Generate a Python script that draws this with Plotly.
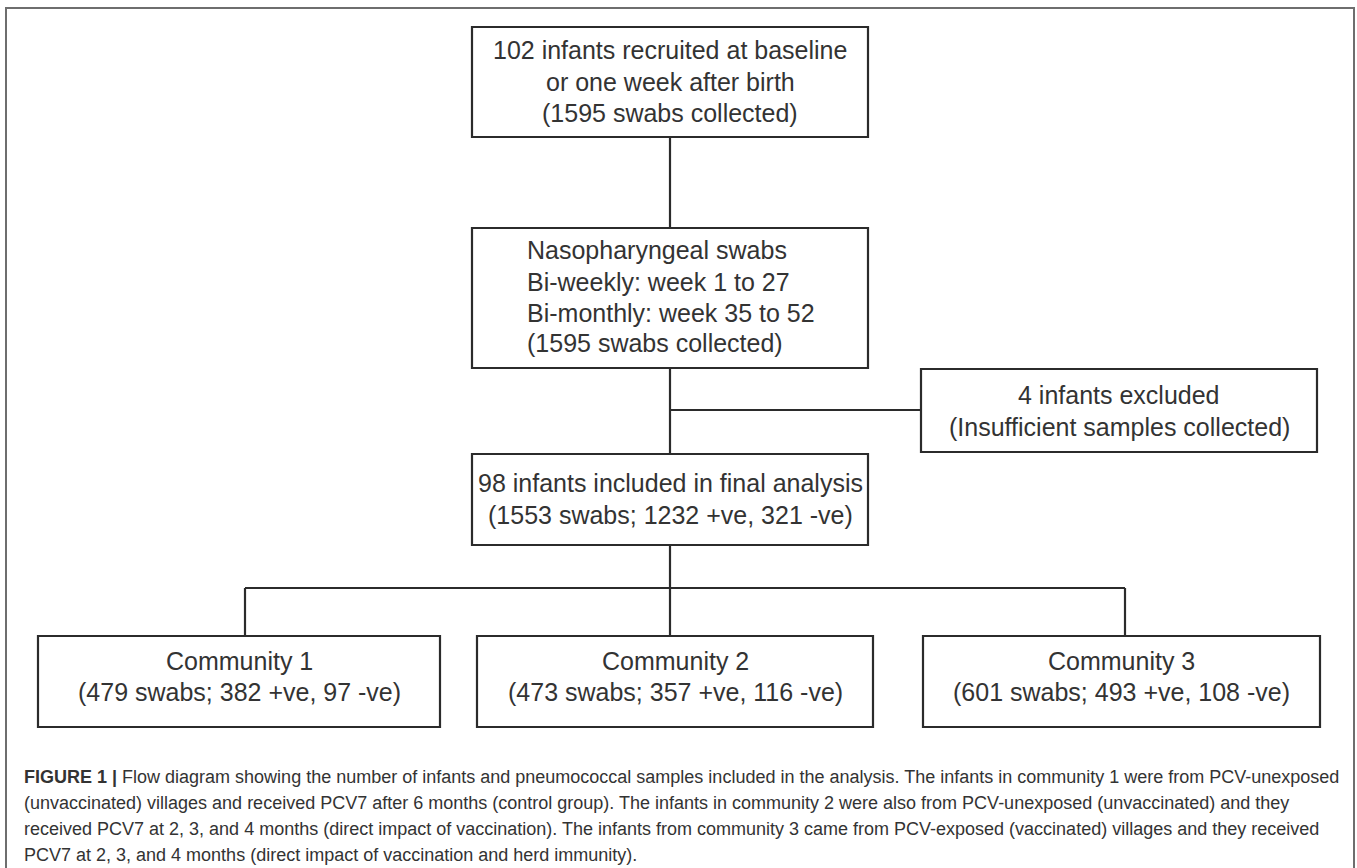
import plotly.graph_objects as go

# ---- data (texts and counts) ----
recruited_infants = 102
swabs_collected = 1595
schedule_lines = ["Nasopharyngeal swabs", "Bi-weekly: week 1 to 27", "Bi-monthly: week 35 to 52"]
excluded_infants = 4
included_infants = 98
included_swabs = 1553
included_pos = 1232
included_neg = 321
communities = ["Community 1", "Community 2", "Community 3"]
community_swabs = [479, 473, 601]
community_pos = [382, 357, 493]
community_neg = [97, 116, 108]
caption_lines = [
    "<b>FIGURE 1 |</b> Flow diagram showing the number of infants and pneumococcal samples included in the analysis. The infants in community 1 were from PCV-unexposed",
    "(unvaccinated) villages and received PCV7 after 6 months (control group). The infants in community 2 were also from PCV-unexposed (unvaccinated) and they",
    "received PCV7 at 2, 3, and 4 months (direct impact of vaccination). The infants from community 3 came from PCV-exposed (vaccinated) villages and they received",
    "PCV7 at 2, 3, and 4 months (direct impact of vaccination and herd immunity).",
]

# ---- box texts ----
box_texts = {
    "top": [f"{recruited_infants} infants recruited at baseline", "or one week after birth",
            f"({swabs_collected} swabs collected)"],
    "swabs": schedule_lines + [f"({swabs_collected} swabs collected)"],
    "excl": [f"{excluded_infants} infants excluded", "(Insufficient samples collected)"],
    "incl": [f"{included_infants} infants included in final analysis",
             f"({included_swabs} swabs; {included_pos} +ve, {included_neg} -ve)"],
}
for i, c in enumerate(communities):
    box_texts[f"c{i}"] = [c, f"({community_swabs[i]} swabs; {community_pos[i]} +ve, {community_neg[i]} -ve)"]

# ---- layout geometry (pixels) ----
W, H = 1357, 868
geom = {
    "top":   dict(x0=472, x1=868, y0=27, y1=137, lines=[50, 82, 113], align="center"),
    "swabs": dict(x0=472, x1=868, y0=228, y1=368, lines=[250, 282, 313, 343], align="left", tx=525),
    "excl":  dict(x0=921, x1=1317, y0=369, y1=452, lines=[395, 427], align="center"),
    "incl":  dict(x0=472, x1=868, y0=454, y1=545, lines=[483, 515], align="center"),
    "c0":    dict(x0=38, x1=440, y0=636, y1=727, lines=[661, 692], align="center"),
    "c1":    dict(x0=477, x1=873, y0=636, y1=727, lines=[661, 692], align="center"),
    "c2":    dict(x0=923, x1=1320, y0=636, y1=727, lines=[661, 692], align="center"),
}

LINE = dict(color="#2b2b2b", width=2.2)
TXT = dict(family="Liberation Sans, Arial, sans-serif", size=25, color="#333333")

fig = go.Figure()
fig.add_trace(go.Scatter(x=[0, W], y=[0, H], mode="markers", marker=dict(opacity=0),
                         hoverinfo="skip", showlegend=False))

shapes = []
annotations = []

# outer frame
shapes.append(dict(type="rect", x0=6, x1=1354, y0=8, y1=H + 20, xref="x", yref="y",
                   line=dict(color="#6e6e6e", width=2), fillcolor="rgba(0,0,0,0)"))

for key, g in geom.items():
    shapes.append(dict(type="rect", x0=g["x0"], x1=g["x1"], y0=g["y0"], y1=g["y1"],
                       xref="x", yref="y", line=LINE, fillcolor="white", layer="below"))
    for txt, ly in zip(box_texts[key], g["lines"]):
        if g["align"] == "left":
            annotations.append(dict(x=g["tx"], y=ly, xref="x", yref="y", text=txt, showarrow=False,
                                    xanchor="left", yanchor="middle", font=TXT))
        else:
            annotations.append(dict(x=(g["x0"] + g["x1"]) / 2, y=ly, xref="x", yref="y", text=txt,
                                    showarrow=False, xanchor="center", yanchor="middle", font=TXT))

cx = 670
def seg(x0, y0, x1, y1):
    shapes.append(dict(type="line", x0=x0, y0=y0, x1=x1, y1=y1, xref="x", yref="y", line=LINE))

seg(cx, geom["top"]["y1"], cx, geom["swabs"]["y0"])
seg(cx, geom["swabs"]["y1"], cx, geom["incl"]["y0"])
seg(cx, 410, geom["excl"]["x0"], 410)
seg(cx, geom["incl"]["y1"], cx, geom["c1"]["y0"])
seg(245, 588, 1125, 588)
seg(245, 588, 245, geom["c0"]["y0"])
seg(1125, 588, 1125, geom["c2"]["y0"])

cap_y = [777, 803, 829, 855]
for txt, ly in zip(caption_lines, cap_y):
    annotations.append(dict(x=22, y=ly, xref="x", yref="y", text=txt, showarrow=False,
                            xanchor="left", yanchor="middle",
                            font=dict(family="Liberation Sans, Arial, sans-serif", size=18, color="#333333")))

fig.update_layout(
    width=W, height=H, margin=dict(l=0, r=0, t=0, b=0),
    paper_bgcolor="white", plot_bgcolor="white",
    xaxis=dict(range=[0, W], visible=False, fixedrange=True),
    yaxis=dict(range=[H, 0], visible=False, fixedrange=True),
    shapes=shapes, annotations=annotations, showlegend=False,
)
fig.write_html("out.html", config={"displayModeBar": False},
               post_script="document.body.style.margin='0px';document.body.style.overflow='hidden';")
